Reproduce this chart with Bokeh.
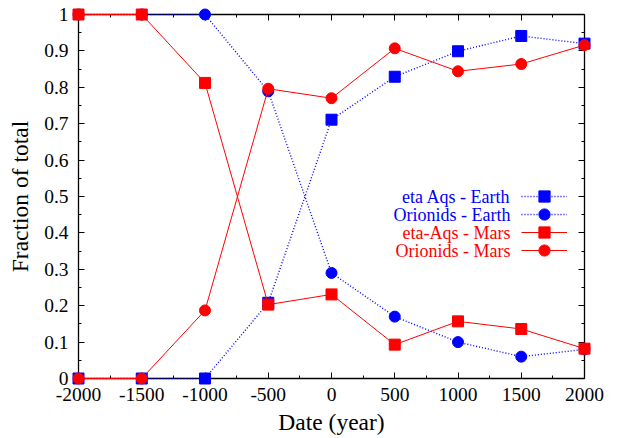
from bokeh.plotting import figure
from bokeh.models import (Legend, LegendItem, Label, LinearAxis, FixedTicker,
                          CustomJSTickFormatter, Range1d)
from bokeh.embed import file_html
from bokeh.resources import INLINE

years = [-2000, -1500, -1000, -500, 0, 500, 1000, 1500, 2000]
eta_earth = [0, 0, 0, 0.208, 0.711, 0.829, 0.899, 0.941, 0.92]
ori_earth = [1, 1, 1, 0.789, 0.290, 0.170, 0.100, 0.060, 0.080]
eta_mars = [1, 1, 0.812, 0.203, 0.231, 0.093, 0.157, 0.136, 0.082]
ori_mars = [0, 0, 0.187, 0.796, 0.770, 0.907, 0.844, 0.864, 0.916]

series_names = ["eta Aqs - Earth", "Orionids - Earth", "eta-Aqs - Mars", "Orionids - Mars"]
x_ticks = [-2000, -1500, -1000, -500, 0, 500, 1000, 1500, 2000]
x_tick_labels = ["-2000", "-1500", "-1000", "-500", "0", "500", "1000", "1500", "2000"]
y_ticks = [0, 0.1, 0.2, 0.3, 0.4, 0.5, 0.6, 0.7, 0.8, 0.9, 1]
y_tick_labels = ["0", "0.1", "0.2", "0.3", "0.4", "0.5", "0.6", "0.7", "0.8", "0.9", "1"]

FONT = "Liberation Serif"
BLUE = "#0000ff"
RED = "#ff0000"

p = figure(width=619, height=438, output_backend="svg", toolbar_location=None,
           x_range=Range1d(-2000, 2000), y_range=Range1d(0, 1),
           min_border_left=78, min_border_right=35, min_border_top=14, min_border_bottom=60)
p.xgrid.visible = False
p.ygrid.visible = False
p.outline_line_color = None
p.background_fill_color = "white"
p.border_fill_color = "white"

def style_axis(ax, ticks, minor, labels=True):
    ax.ticker = FixedTicker(ticks=ticks, minor_ticks=minor)
    ax.axis_line_color = "black"
    ax.axis_line_width = 1.3
    ax.major_tick_in = 6
    ax.major_tick_out = 0
    ax.minor_tick_in = 3
    ax.minor_tick_out = 0
    ax.major_tick_line_color = "black"
    ax.minor_tick_line_color = "black"
    ax.major_tick_line_width = 1
    ax.minor_tick_line_width = 1
    ax.major_label_text_font = FONT
    ax.major_label_text_font_size = "19.5px"
    ax.major_label_text_color = "black"
    ax.axis_label_text_font = FONT
    ax.axis_label_text_font_size = "23.5px"
    ax.axis_label_text_font_style = "normal"
    ax.axis_label_text_color = "black"
    if not labels:
        ax.formatter = CustomJSTickFormatter(code="return ''")

x_minor = [v + 250 for v in x_ticks[:-1]]
y_minor = [round(v + 0.05, 2) for v in y_ticks[:-1]]

xa = p.xaxis[0]
style_axis(xa, x_ticks, x_minor)
xa.axis_label = "Date (year)"
xa.major_label_overrides = {t: l for t, l in zip(x_ticks, x_tick_labels)}
xa.major_label_standoff = 9
xa.axis_label_standoff = 5

ya = p.yaxis[0]
style_axis(ya, y_ticks, y_minor)
ya.axis_label = "Fraction of total"
ya.major_label_overrides = {t: l for t, l in zip(y_ticks, y_tick_labels)}
ya.major_label_standoff = 10
ya.axis_label_standoff = 8

top = LinearAxis()
style_axis(top, x_ticks, x_minor, labels=False)
p.add_layout(top, "above")
right = LinearAxis()
style_axis(right, y_ticks, y_minor, labels=False)
p.add_layout(right, "right")

l1 = p.line(years, eta_earth, line_color=BLUE, line_width=1.4, line_dash="1 2", level="overlay")
s1 = p.scatter(years, eta_earth, marker="square", size=11, fill_color=BLUE, line_color=BLUE, level="overlay")
l2 = p.line(years, ori_earth, line_color=BLUE, line_width=1.4, line_dash="1 2", level="overlay")
s2 = p.scatter(years, ori_earth, marker="circle", size=11, fill_color=BLUE, line_color=BLUE, level="overlay")
l3 = p.line(years, eta_mars, line_color=RED, line_width=1, level="overlay")
s3 = p.scatter(years, eta_mars, marker="square", size=11, fill_color=RED, line_color=RED, level="overlay")
l4 = p.line(years, ori_mars, line_color=RED, line_width=1, level="overlay")
s4 = p.scatter(years, ori_mars, marker="circle", size=11, fill_color=RED, line_color=RED, level="overlay")

pairs = [(l1, s1), (l2, s2), (l3, s3), (l4, s4)]
legend_bottoms = [168, 150, 132, 114]
for (l, s), lb in zip(pairs, legend_bottoms):
    legend = Legend(items=[LegendItem(label=" ", renderers=[l, s])], location=(443, lb),
                    glyph_width=46, glyph_height=28, label_height=28, label_width=1,
                    label_standoff=0, spacing=0, padding=0, margin=0,
                    border_line_color=None, background_fill_alpha=0,
                    label_text_font_size="1px")
    p.add_layout(legend)

colors = [BLUE, BLUE, RED, RED]
ys = [182, 164, 146, 128]
for name, c, yy in zip(series_names, colors, ys):
    p.add_layout(Label(x=432, y=yy, x_units="screen", y_units="screen", text=name,
                       text_align="right", text_baseline="middle", text_color=c,
                       text_font=FONT, text_font_size="18px"))

open("out.html", "w").write(file_html(p, INLINE))
